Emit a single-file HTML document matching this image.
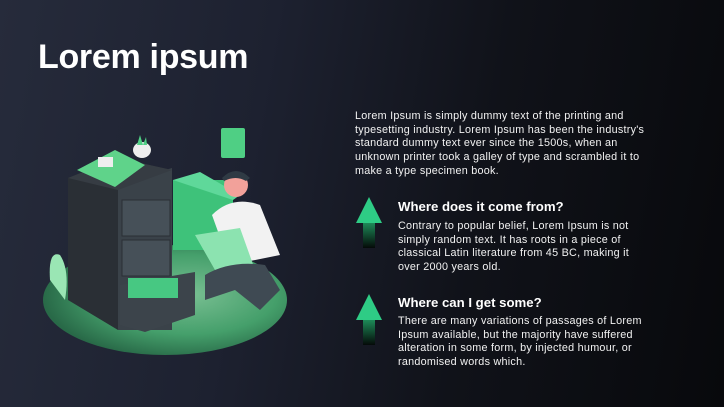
<!DOCTYPE html>
<html><head><style>
html,body{margin:0;padding:0}
body{width:724px;height:407px;overflow:hidden;position:relative;font-family:"Liberation Sans",sans-serif;color:#fff;
background:linear-gradient(100deg,#262b3b 0%,#1d2130 35%,#101219 65%,#08090c 100%);}
.t{position:absolute;left:38px;top:38px;font-size:34px;font-weight:bold;letter-spacing:-0.3px}
.p{position:absolute;font-size:10.8px;letter-spacing:0.25px;line-height:13.7px;color:#f2f2f2;white-space:nowrap}
.h{position:absolute;font-size:13.2px;font-weight:bold;white-space:nowrap}
</style></head><body>
<div class="t">Lorem ipsum</div>
<svg style="position:absolute;left:0;top:0" width="724" height="407">
<defs>
<radialGradient id="g" cx="0.6" cy="0.45" r="0.6"><stop offset="0" stop-color="#8fe6aa"/><stop offset="0.6" stop-color="#4fbf7a"/><stop offset="1" stop-color="#2a7a4c"/></radialGradient>
<linearGradient id="ar" x1="0" y1="0" x2="0" y2="1"><stop offset="0" stop-color="#1e8a58"/><stop offset="1" stop-color="#050a08"/></linearGradient>
</defs>
<ellipse cx="165" cy="300" rx="122" ry="55" fill="url(#g)" opacity="0.8"/>
<path d="M50 280 Q48 250 60 255 Q70 270 65 300Z" fill="#9ae6b4"/>
<rect x="173" y="180" width="60" height="70" fill="#3ec27a"/>
<polygon points="173,180 200,172 240,195 233,200" fill="#5fd89a"/>
<polygon points="68,178 118,158 172,170 172,330 118,330 68,300" fill="#2a2f35"/>
<polygon points="118,185 172,168 172,330 118,330" fill="#3a4249"/>
<polygon points="68,178 118,158 172,170 118,190" fill="#363c43"/>
<rect x="122" y="200" width="48" height="36" fill="#465058" stroke="#2a2f35"/>
<rect x="122" y="240" width="48" height="36" fill="#465058" stroke="#2a2f35"/>
<polygon points="120,285 195,272 195,315 145,332 120,325" fill="#3c444b"/>
<rect x="128" y="278" width="50" height="20" fill="#47c882"/>
<polygon points="77,170 115,150 145,165 115,187" fill="#5fd38a"/>
<rect x="98" y="157" width="15" height="10" fill="#eee"/>
<ellipse cx="142" cy="150" rx="9" ry="8" fill="#eee"/>
<path d="M137 145 l3 -10 l3 10 l3 -8 l1 8z" fill="#4fcf84"/>
<rect x="221" y="128" width="24" height="30" rx="2" fill="#4fcf84"/>
<circle cx="236" cy="185" r="12" fill="#f2a19a"/>
<path d="M222 178 q14 -14 28 0 l-4 3 q-10 -6 -22 0z" fill="#2f3a44"/>
<path d="M212 215 q20 -20 48 -10 l20 50 l-50 10z" fill="#f2f2f2"/>
<polygon points="195,235 240,228 255,270 215,270" fill="#8ce3b0"/>
<path d="M205 275 q25 -15 60 -10 l15 25 l-20 20 l-25 -20 l-30 10z" fill="#3f4a53"/>
<polygon points="356,223 369,197 382,223" fill="#2ecc85"/>
<rect x="363" y="223" width="12" height="25" fill="url(#ar)"/>
<polygon points="356,320 369,294 382,320" fill="#2ecc85"/>
<rect x="363" y="320" width="12" height="25" fill="url(#ar)"/>
</svg>
<div class="p" style="left:355px;top:110px">Lorem Ipsum is simply dummy text of the printing and<br>typesetting industry. Lorem Ipsum has been the industry's<br>standard dummy text ever since the 1500s, when an<br>unknown printer took a galley of type and scrambled it to<br>make a type specimen book.</div>
<div class="h" style="left:398px;top:199px">Where does it come from?</div>
<div class="p" style="left:398px;top:220px">Contrary to popular belief, Lorem Ipsum is not<br>simply random text. It has roots in a piece of<br>classical Latin literature from 45 BC, making it<br>over 2000 years old.</div>
<div class="h" style="left:398px;top:295px">Where can I get some?</div>
<div class="p" style="left:398px;top:315px">There are many variations of passages of Lorem<br>Ipsum available, but the majority have suffered<br>alteration in some form, by injected humour, or<br>randomised words which.</div>
</body></html>
